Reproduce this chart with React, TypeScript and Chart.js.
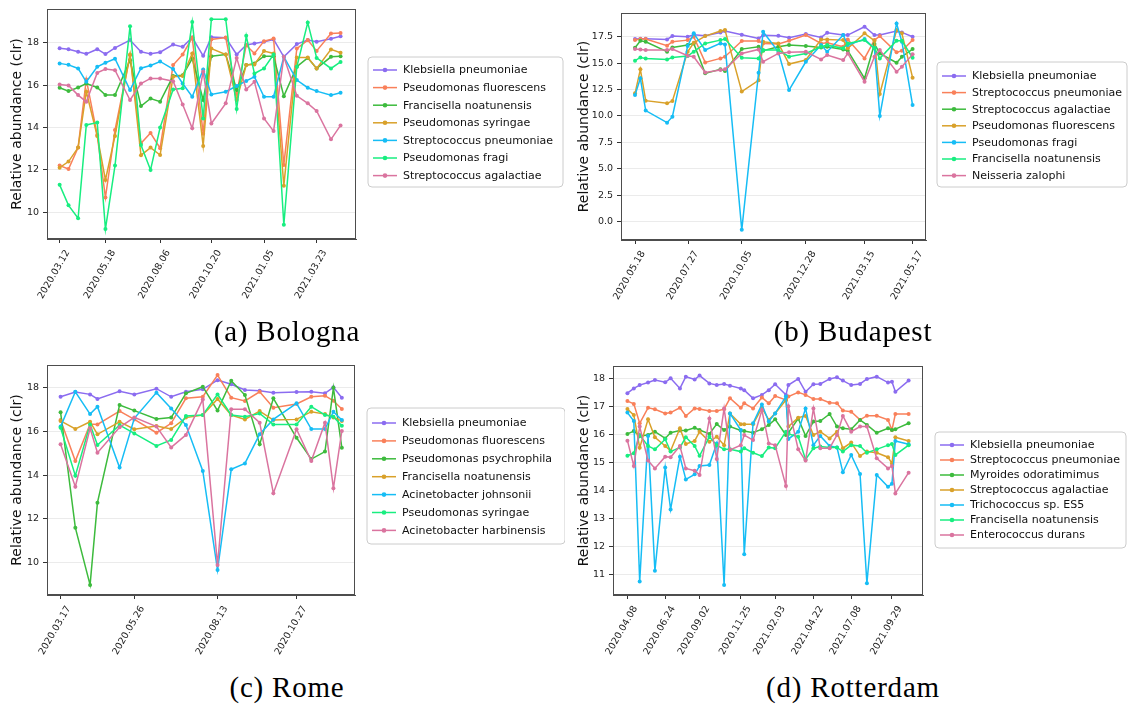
import React, { useEffect, useRef } from "react";
import { Chart, registerables } from "chart.js";

Chart.register(...registerables);

const PALETTE = ["#8b6cf0", "#f9805a", "#3dbb3d", "#d9a12a", "#16bdf5", "#18ee80", "#da749f"];

// ---------------- (a) Bologna ----------------
const bolognaDays = [71, 84, 98, 110, 126, 138, 152, 174, 190, 204, 218, 237, 251, 265, 281, 293, 314, 330, 344, 356, 370, 384, 399, 418, 434, 447, 468, 482];
const bolognaTicks = ["2020.03.12", "2020.05.18", "2020.08.06", "2020.10.20", "2021.01.05", "2021.03.23"];
const bolognaNames = ["Klebsiella pneumoniae", "Pseudomonas fluorescens", "Francisella noatunensis", "Pseudomonas syringae", "Streptococcus pneumoniae", "Pseudomonas fragi", "Streptococcus agalactiae"];
const bolognaKlebsiella = [17.75, 17.7, 17.58, 17.48, 17.7, 17.47, 17.76, 18.13, 17.58, 17.48, 17.56, 17.92, 17.81, 18.25, 17.39, 18.27, 18.24, 17.45, 17.9, 17.97, 18.05, 18.16, 17.34, 17.94, 18.13, 18.05, 18.19, 18.31];
const bolognaFluorescens = [12.2, 12.04, 13.05, 16.27, 13.64, 10.69, 13.88, 17.42, 13.25, 13.74, 13.02, 16.95, 17.45, 18.25, 13.71, 18.16, 18.25, 15.6, 17.89, 17.5, 18.08, 18.2, 12.23, 17.73, 18.13, 17.62, 18.44, 18.47];
const bolognaFrancisella = [15.88, 15.72, 15.89, 16.08, 15.89, 15.53, 15.53, 17.18, 15.01, 15.37, 15.22, 16.43, 16.47, 17.26, 15.3, 17.37, 17.45, 15.77, 16.95, 17.03, 17.37, 17.37, 15.48, 16.87, 17.29, 16.79, 17.34, 17.37];
const bolognaSyringae = [12.1, 12.39, 13.05, 15.69, 13.6, 11.52, 13.6, 17.45, 12.69, 13.05, 12.7, 16.4, 16.43, 17.5, 13.13, 17.73, 17.45, 15.3, 16.95, 16.98, 17.61, 17.5, 11.25, 17.31, 17.31, 16.79, 17.69, 17.53];
const bolognaStrepPneumoniae = [17.03, 16.96, 16.79, 16.16, 16.87, 17.06, 17.25, 15.77, 16.8, 16.93, 17.12, 16.76, 16.08, 15.45, 16.74, 15.56, 15.69, 15.96, 16.2, 16.4, 15.45, 15.45, 17.34, 16.24, 15.88, 15.72, 15.53, 15.64];
const bolognaFragi = [11.29, 10.32, 9.71, 14.12, 14.23, 9.2, 12.2, 18.79, 13.17, 11.99, 14.0, 15.8, 15.85, 18.99, 14.43, 19.12, 19.12, 14.87, 18.33, 16.55, 16.79, 17.45, 9.4, 16.87, 18.96, 17.29, 16.79, 17.1];
const bolognaAgalactiae = [16.03, 15.99, 15.53, 15.22, 16.58, 16.76, 16.71, 15.3, 16.08, 16.32, 16.32, 16.19, 15.09, 13.96, 16.63, 14.19, 15.14, 17.29, 15.8, 16.16, 14.43, 13.83, 17.34, 15.5, 15.14, 14.78, 13.44, 14.1];

// ---------------- (b) Budapest ----------------
const budapestDays = [138, 145, 152, 180, 187, 207, 215, 230, 250, 256, 278, 300, 306, 326, 340, 362, 382, 390, 411, 417, 439, 452, 459, 481, 488, 502];
const budapestTicks = ["2020.05.18", "2020.07.27", "2020.10.05", "2020.12.28", "2021.03.15", "2021.05.17"];
const budapestNames = ["Klebsiella pneumoniae", "Streptococcus pneumoniae", "Streptococcus agalactiae", "Pseudomonas fluorescens", "Pseudomonas fragi", "Francisella noatunensis", "Neisseria zalophi"];
const budapestKlebsiella = [17.28, 17.31, 17.31, 17.25, 17.56, 17.5, 17.69, 17.6, 17.91, 18.04, 17.69, 17.34, 17.63, 17.6, 17.4, 17.75, 17.44, 17.88, 17.66, 17.66, 18.45, 17.66, 17.66, 18.04, 17.91, 17.5];
const budapestStrepPneumoniae = [17.18, 17.28, 17.28, 16.65, 17.03, 17.18, 17.5, 15.07, 15.45, 15.61, 17.09, 17.09, 16.87, 16.81, 17.12, 17.66, 16.87, 16.93, 16.55, 17.25, 15.45, 17.18, 17.56, 16.02, 16.18, 17.18];
const budapestAgalactiae = [16.46, 17.12, 17.03, 16.08, 16.49, 16.71, 16.87, 14.03, 14.41, 14.25, 16.33, 16.55, 16.18, 16.55, 16.71, 16.62, 16.49, 16.55, 16.3, 16.18, 13.56, 16.81, 15.92, 15.04, 15.61, 16.33];
const budapestFluorescens = [12.14, 14.41, 11.44, 11.19, 11.41, 16.08, 16.93, 17.56, 18.04, 18.13, 12.3, 13.37, 17.03, 16.87, 14.91, 15.29, 17.25, 17.25, 17.18, 16.4, 17.82, 17.12, 12.07, 18.13, 17.82, 13.62];
const budapestFragi = [11.98, 13.56, 10.5, 9.36, 9.93, 16.62, 17.82, 16.24, 16.87, 16.77, -0.8, 14.09, 17.97, 16.08, 12.45, 15.13, 16.71, 16.08, 17.66, 16.71, 17.28, 16.4, 9.99, 18.76, 17.03, 11.03];
const budapestFrancisella = [15.23, 15.54, 15.45, 15.35, 15.54, 15.67, 16.08, 16.87, 17.18, 17.28, 15.51, 15.45, 16.24, 16.24, 15.61, 15.92, 16.55, 16.71, 16.4, 16.87, 17.18, 16.4, 15.45, 17.12, 17.12, 15.51];
const budapestNeisseria = [16.33, 16.3, 16.24, 16.24, 16.33, 15.7, 15.61, 14.12, 14.35, 14.41, 15.92, 16.3, 15.13, 15.92, 16.02, 16.08, 15.35, 15.76, 15.29, 15.92, 13.24, 15.61, 16.24, 14.19, 14.66, 15.83];

// ---------------- (c) Rome ----------------
const romeDays = [76, 90, 104, 111, 132, 146, 167, 181, 195, 211, 225, 238, 251, 265, 278, 300, 314, 327, 335, 343];
const romeTicks = ["2020.03.17", "2020.05.26", "2020.08.13", "2020.10.27"];
const romeNames = ["Klebsiella pneumoniae", "Pseudomonas fluorescens", "Pseudomonas psychrophila", "Francisella noatunensis", "Acinetobacter johnsonii", "Pseudomonas syringae", "Acinetobacter harbinensis"];
const romeKlebsiella = [17.57, 17.79, 17.68, 17.47, 17.82, 17.68, 17.94, 17.57, 17.8, 17.91, 18.33, 18.14, 17.88, 17.85, 17.76, 17.79, 17.8, 17.73, 18.0, 17.53];
const romeFluorescens = [16.51, 14.64, 16.33, 16.31, 16.92, 16.54, 15.93, 16.36, 17.5, 17.57, 18.56, 17.53, 17.38, 17.8, 17.07, 17.24, 17.57, 17.62, 17.39, 17.01];
const romePsychrophila = [16.86, 11.6, 8.99, 12.74, 17.19, 16.94, 16.56, 16.62, 17.73, 18.03, 16.94, 18.3, 17.65, 15.4, 17.5, 15.7, 14.73, 15.07, 17.98, 15.25];
const romeFrancisella = [16.47, 16.1, 16.43, 15.86, 16.43, 16.09, 16.24, 16.1, 16.62, 16.74, 17.47, 16.74, 16.54, 16.92, 16.51, 16.54, 16.89, 16.78, 16.63, 16.47];
const romeJohnsonii = [16.21, 17.8, 16.78, 17.12, 14.34, 16.59, 17.76, 17.04, 16.28, 14.19, 9.67, 14.26, 14.53, 15.86, 16.54, 17.27, 16.1, 16.1, 16.89, 16.51];
const romeSyringae = [16.16, 13.97, 16.31, 15.37, 16.28, 15.9, 15.33, 15.6, 16.69, 16.74, 17.68, 16.74, 16.66, 16.81, 16.31, 16.31, 17.12, 16.74, 16.66, 16.25];
const romeHarbinensis = [15.4, 13.47, 16.13, 15.02, 16.18, 16.63, 16.21, 15.26, 15.83, 17.45, 9.9, 17.0, 17.0, 16.39, 13.17, 16.09, 14.64, 16.39, 13.4, 16.01];

// ---------------- (d) Rotterdam ----------------
const rotterdamDays = [98, 111, 123, 140, 154, 175, 186, 205, 217, 235, 245, 265, 280, 295, 307, 329, 336, 354, 372, 386, 399, 421, 426, 446, 461, 477, 491, 510, 525, 537, 554, 572, 586, 606, 629, 637, 644, 671];
const rotterdamTicks = ["2020.04.08", "2020.06.24", "2020.09.02", "2020.11.25", "2021.02.03", "2021.04.22", "2021.07.08", "2021.09.29"];
const rotterdamNames = ["Klebsiella pneumoniae", "Streptococcus pneumoniae", "Myroides odoratimimus", "Streptococcus agalactiae", "Trichococcus sp. ES5", "Francisella noatunensis", "Enterococcus durans"];
const rotterdamKlebsiella = [17.47, 17.64, 17.76, 17.85, 17.94, 17.86, 18.0, 17.64, 18.06, 17.96, 18.1, 17.82, 17.76, 17.8, 17.74, 17.64, 17.58, 17.29, 17.41, 17.58, 17.79, 17.41, 17.76, 17.98, 17.52, 17.79, 17.8, 17.98, 18.04, 17.92, 17.76, 17.8, 17.98, 18.06, 17.85, 17.88, 17.52, 17.92];
const rotterdamStrepPneumoniae = [17.19, 17.09, 16.4, 16.95, 16.9, 16.75, 16.78, 16.95, 16.66, 16.93, 16.91, 16.84, 16.84, 16.9, 17.29, 16.95, 17.11, 16.93, 17.32, 17.11, 17.37, 17.23, 17.35, 17.5, 17.41, 17.26, 17.26, 17.13, 17.11, 16.85, 16.81, 16.52, 16.67, 16.67, 16.52, 16.16, 16.73, 16.73];
const rotterdamMyroides = [16.02, 16.12, 15.95, 15.98, 16.1, 15.86, 16.06, 16.14, 16.14, 16.24, 16.16, 16.02, 16.37, 16.16, 16.28, 16.14, 16.12, 16.06, 16.19, 16.34, 16.54, 15.98, 16.06, 16.57, 15.95, 16.46, 16.48, 16.73, 16.28, 16.22, 16.19, 16.52, 16.34, 16.06, 16.22, 16.16, 16.19, 16.4];
const rotterdamAgalactiae = [16.91, 16.69, 15.53, 16.54, 15.9, 15.59, 15.42, 16.22, 15.66, 15.77, 16.1, 15.74, 15.92, 15.62, 16.75, 16.36, 16.36, 16.36, 16.95, 16.52, 16.75, 17.23, 16.28, 16.6, 16.66, 15.98, 16.1, 15.86, 16.1, 15.51, 15.71, 15.23, 15.39, 15.35, 15.19, 14.97, 15.9, 15.77];
const rotterdamTrichococcus = [16.78, 16.48, 10.76, 15.95, 11.14, 14.82, 13.33, 15.21, 14.4, 14.58, 14.88, 14.91, 15.68, 10.64, 16.75, 16.16, 11.73, 16.4, 17.07, 16.46, 16.75, 17.35, 15.84, 16.1, 16.93, 15.62, 15.95, 15.59, 15.54, 14.65, 15.27, 14.59, 10.7, 14.56, 14.14, 14.24, 15.77, 15.65];
const rotterdamFrancisella = [15.24, 15.33, 15.98, 15.59, 15.47, 15.83, 15.39, 15.54, 15.9, 15.59, 15.24, 15.92, 15.62, 15.47, 15.47, 15.39, 15.51, 15.35, 15.23, 15.54, 15.51, 16.1, 16.02, 15.92, 15.11, 15.51, 15.57, 15.54, 15.54, 15.39, 15.62, 15.59, 15.35, 15.47, 15.62, 15.66, 15.27, 15.62];
const rotterdamDurans = [15.78, 14.88, 16.28, 15.07, 14.79, 15.21, 15.19, 15.59, 14.79, 14.71, 14.56, 16.57, 15.13, 16.93, 15.45, 15.62, 15.98, 15.8, 16.87, 15.68, 15.62, 14.16, 17.01, 15.47, 15.07, 16.93, 15.51, 15.51, 15.98, 16.66, 16.1, 16.28, 16.28, 15.15, 14.79, 14.88, 13.9, 14.64];

const FONT = '"DejaVu Sans", sans-serif';

function dayOf(label: string): number {
  const [y, m, d] = label.split(".").map(Number);
  return Math.round((Date.UTC(y, m - 1, d) - Date.UTC(2020, 0, 1)) / 86400000);
}

type Panel = {
  days: number[];
  names: string[];
  values: number[][];
  xTicks: string[];
  yTicks: number[];
  yDecimals: number;
  xMin: number; xMax: number; yMin: number; yMax: number;
  left: number; top: number; width: number; height: number;
  plot: { l: number; t: number; r: number; b: number };
  titlePad: number;
  legend: { x: number; y: number; w: number; h: number; first: number; pitch: number; font: number };
  caption: string; capX: number; capY: number;
};

const panels: Panel[] = [
  {
    days: bolognaDays, names: bolognaNames,
    values: [bolognaKlebsiella, bolognaFluorescens, bolognaFrancisella, bolognaSyringae, bolognaStrepPneumoniae, bolognaFragi, bolognaAgalactiae],
    xTicks: bolognaTicks, yTicks: [10, 12, 14, 16, 18], yDecimals: 0,
    xMin: 52.5, xMax: 504.6, yMin: 8.73, yMax: 19.6,
    left: 0, top: 0, width: 565, height: 322,
    plot: { l: 47, t: 9, r: 356, b: 239 }, titlePad: 8.6,
    legend: { x: 368, y: 57, w: 195, h: 130, first: 13, pitch: 17.6, font: 11 },
    caption: "(a) Bologna", capX: 287, capY: 317,
  },
  {
    days: budapestDays, names: budapestNames,
    values: [budapestKlebsiella, budapestStrepPneumoniae, budapestAgalactiae, budapestFluorescens, budapestFragi, budapestFrancisella, budapestNeisseria],
    xTicks: budapestTicks, yTicks: [0, 2.5, 5, 7.5, 10, 12.5, 15, 17.5], yDecimals: 1,
    xMin: 119.6, xMax: 519.6, yMin: -1.76, yMax: 19.75,
    left: 565, top: 0, width: 566, height: 322,
    plot: { l: 56, t: 13, r: 361, b: 240 }, titlePad: 10.6,
    legend: { x: 372, y: 62, w: 190, h: 125, first: 14, pitch: 16.6, font: 11 },
    caption: "(b) Budapest", capX: 853, capY: 317,
  },
  {
    days: romeDays, names: romeNames,
    values: [romeKlebsiella, romeFluorescens, romePsychrophila, romeFrancisella, romeJohnsonii, romeSyringae, romeHarbinensis],
    xTicks: romeTicks, yTicks: [10, 12, 14, 16, 18], yDecimals: 0,
    xMin: 63.1, xMax: 355.5, yMin: 8.53, yMax: 19.02,
    left: 0, top: 340, width: 565, height: 330,
    plot: { l: 47, t: 25, r: 355, b: 255 }, titlePad: 8.6,
    legend: { x: 367, y: 68, w: 198, h: 136, first: 15, pitch: 17.9, font: 11 },
    caption: "(c) Rome", capX: 287, capY: 673,
  },
  {
    days: rotterdamDays, names: rotterdamNames,
    values: [rotterdamKlebsiella, rotterdamStrepPneumoniae, rotterdamMyroides, rotterdamAgalactiae, rotterdamTrichococcus, rotterdamFrancisella, rotterdamDurans],
    xTicks: rotterdamTicks, yTicks: [11, 12, 13, 14, 15, 16, 17, 18], yDecimals: 0,
    xMin: 68.6, xMax: 700.3, yMin: 10.28, yMax: 18.44,
    left: 565, top: 340, width: 566, height: 330,
    plot: { l: 48, t: 26, r: 358, b: 255 }, titlePad: 10.6,
    legend: { x: 370, y: 92, w: 191, h: 116, first: 13, pitch: 15.0, font: 11 },
    caption: "(d) Rotterdam", capX: 853, capY: 673,
  },
];

const mplPlugin = {
  id: "mpl",
  afterDraw(chart: any, _args: any, opts: any) {
    const { ctx, chartArea: a } = chart;
    ctx.save();
    ctx.strokeStyle = "#4d4d4d";
    ctx.lineWidth = 1;
    ctx.strokeRect(Math.round(a.left) + 0.5, Math.round(a.top) + 0.5, Math.round(a.right - a.left) - 1, Math.round(a.bottom - a.top) - 1);
    const L = opts && opts.box;
    if (L) {
      const r = 4;
      ctx.beginPath();
      ctx.moveTo(L.x + r, L.y);
      ctx.arcTo(L.x + L.w, L.y, L.x + L.w, L.y + L.h, r);
      ctx.arcTo(L.x + L.w, L.y + L.h, L.x, L.y + L.h, r);
      ctx.arcTo(L.x, L.y + L.h, L.x, L.y, r);
      ctx.arcTo(L.x, L.y, L.x + L.w, L.y, r);
      ctx.closePath();
      ctx.fillStyle = "rgba(255,255,255,0.8)";
      ctx.fill();
      ctx.strokeStyle = "#cccccc";
      ctx.lineWidth = 1;
      ctx.stroke();
      chart.data.datasets.forEach((ds: any, i: number) => {
        const y = L.y + L.first + i * L.pitch;
        const x0 = L.x + 5;
        ctx.strokeStyle = ds.borderColor;
        ctx.lineWidth = 1.5;
        ctx.beginPath();
        ctx.moveTo(x0, y);
        ctx.lineTo(x0 + 24, y);
        ctx.stroke();
        ctx.fillStyle = ds.borderColor;
        ctx.beginPath();
        ctx.arc(x0 + 12, y, 2.3, 0, Math.PI * 2);
        ctx.fill();
        ctx.fillStyle = "#111";
        ctx.font = `${L.font}px ${FONT}`;
        ctx.textBaseline = "middle";
        ctx.textAlign = "left";
        ctx.fillText(ds.label, L.x + 35, y + 0.5);
      });
    }
    ctx.restore();
  },
};

function PanelChart({ p }: { p: Panel }) {
  const ref = useRef<HTMLCanvasElement>(null);
  useEffect(() => {
    const canvas = ref.current;
    if (!canvas) return;
    const tickDays = p.xTicks.map(dayOf);
    const chart = new Chart(canvas, {
      type: "line",
      data: {
        datasets: p.names.map((name, i) => ({
          label: name,
          data: p.values[i].map((v, j) => ({ x: p.days[j], y: v })),
          borderColor: PALETTE[i],
          backgroundColor: PALETTE[i],
          borderWidth: 1.5,
          pointRadius: 2,
          pointHoverRadius: 2,
          pointBorderWidth: 0,
          tension: 0,
          fill: false,
          order: 10 - i,
        })),
      },
      options: {
        animation: false,
        responsive: false,
        events: [],
        layout: { padding: { left: 0, top: p.plot.t, right: p.width - p.plot.r, bottom: 0 } },
        scales: {
          x: {
            type: "linear",
            min: p.xMin,
            max: p.xMax,
            afterBuildTicks: (s: any) => {
              s.ticks = tickDays.map((v) => ({ value: v }));
            },
            afterFit: (s: any) => {
              s.height = p.height - p.plot.b;
              s.paddingLeft = 0;
              s.paddingRight = 0;
            },
            ticks: {
              autoSkip: false,
              minRotation: 60,
              maxRotation: 60,
              labelOffset: 8,
              padding: 5,
              color: "#222",
              font: { family: FONT, size: 9.5 },
              callback: (_v: any, idx: number) => p.xTicks[idx],
            },
            grid: { drawOnChartArea: false, drawTicks: true, tickLength: 4, tickColor: "#333", tickWidth: 1 },
            border: { display: true, color: "#4d4d4d", width: 1 },
          },
          y: {
            type: "linear",
            min: p.yMin,
            max: p.yMax,
            afterBuildTicks: (s: any) => {
              s.ticks = p.yTicks.map((v) => ({ value: v }));
            },
            afterFit: (s: any) => {
              s.width = p.plot.l;
              s.paddingTop = 0;
              s.paddingBottom = 0;
            },
            ticks: {
              padding: 4,
              color: "#222",
              font: { family: FONT, size: 9.5 },
              callback: (v: any) => (p.yDecimals ? Number(v).toFixed(1) : String(v)),
            },
            grid: { drawOnChartArea: true, color: "#ebebeb", lineWidth: 1, drawTicks: true, tickLength: 4, tickColor: "#333", tickWidth: 1 },
            border: { display: true, color: "#4d4d4d", width: 1 },
            title: {
              display: true,
              text: "Relative abundance (clr)",
              color: "#111",
              font: { family: FONT, size: 14 },
              padding: { top: p.titlePad, bottom: 0 },
            },
          },
        },
        plugins: {
          legend: { display: false },
          tooltip: { enabled: false },
          mpl: { box: p.legend },
        } as any,
      },
      plugins: [mplPlugin],
    } as any);
    return () => chart.destroy();
  }, [p]);
  return (
    <canvas
      ref={ref}
      width={p.width}
      height={p.height}
      style={{ position: "absolute", left: p.left, top: p.top, width: p.width, height: p.height }}
    />
  );
}

export default function App() {
  return (
    <div style={{ position: "absolute", left: 0, top: 0, width: 1131, height: 707, background: "#fff", overflow: "hidden" }}>
      {panels.map((p, i) => (
        <PanelChart key={i} p={p} />
      ))}
      {panels.map((p, i) => (
        <div
          key={"c" + i}
          style={{
            position: "absolute",
            left: p.capX - 150,
            top: p.capY,
            width: 300,
            textAlign: "center",
            fontFamily: '"Liberation Serif", serif',
            fontSize: 29,
            lineHeight: "29px",
            letterSpacing: 0.8,
            color: "#000",
            whiteSpace: "nowrap",
          }}
        >
          {p.caption}
        </div>
      ))}
    </div>
  );
}
